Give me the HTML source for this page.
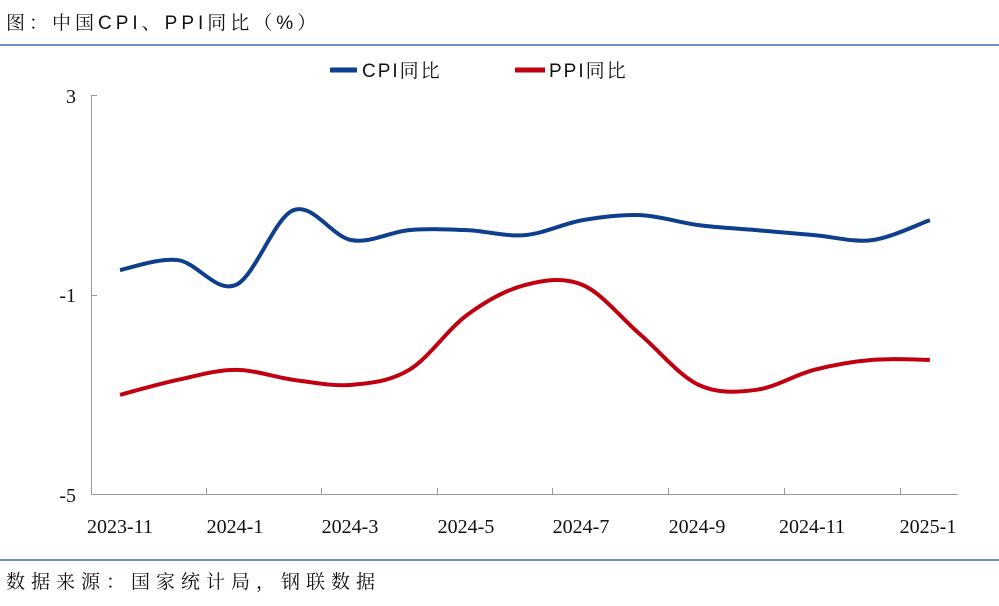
<!DOCTYPE html>
<html><head><meta charset="utf-8"><style>
body{margin:0;background:#fff;width:999px;height:606px;overflow:hidden;position:relative;font-family:"Liberation Serif","Noto Serif CJK SC",serif}
.t{position:absolute;left:6px;top:8px;font-size:19px;color:#111;font-family:"Liberation Sans","Noto Serif CJK SC",serif;letter-spacing:4px}
.s{position:absolute;left:6px;top:567px;font-size:19px;color:#111;font-family:"Liberation Sans","Noto Serif CJK SC",serif;letter-spacing:6px}
.hl{position:absolute;left:0;width:999px;height:2px;background:#7090c0}
</style></head><body>
<div class="t">图：中国CPI、PPI同比（%）</div>
<div class="hl" style="top:44px"></div>
<div class="hl" style="top:559px"></div>
<div class="s">数据来源：国家统计局，钢联数据</div>
<svg width="999" height="606" style="position:absolute;left:0;top:0">
<g stroke="#999" stroke-width="1" fill="none">
<line x1="91.5" y1="95" x2="91.5" y2="494"/>
<line x1="91" y1="494.5" x2="958" y2="494.5"/>
<line x1="91" y1="95.5" x2="97" y2="95.5"/>
<line x1="91" y1="295.5" x2="97" y2="295.5"/>
<g id="tk"></g>
</g>
<g font-size="20" fill="#111" font-family="Liberation Serif,serif">
<text x="76" y="103" text-anchor="end">3</text>
<text x="76" y="302" text-anchor="end">-1</text>
<text x="76" y="502" text-anchor="end">-5</text>
<g text-anchor="middle">
<text x="120" y="533">2023-11</text><text x="235" y="533">2024-1</text><text x="350" y="533">2024-3</text><text x="466" y="533">2024-5</text><text x="581" y="533">2024-7</text><text x="697" y="533">2024-9</text><text x="812" y="533">2024-11</text><text x="928" y="533">2025-1</text>
</g></g>
<line x1="330" y1="70" x2="357" y2="70" stroke="#0e3f8c" stroke-width="5"/>
<text x="362" y="77" font-size="19" letter-spacing="2" fill="#111" font-family="Liberation Sans,Noto Serif CJK SC,serif">CPI同比</text>
<line x1="515" y1="70" x2="545" y2="70" stroke="#c00010" stroke-width="5"/>
<text x="549" y="77" font-size="19" letter-spacing="2" fill="#111" font-family="Liberation Sans,Noto Serif CJK SC,serif">PPI同比</text>
<path id="cpi" fill="none" stroke="#0e3f8c" stroke-width="4"/>
<path id="ppi" fill="none" stroke="#c00010" stroke-width="4"/>
</svg>
<script>
function X(i){return 120+i*57.85}function Y(v){return 295-(v+1)*49.9}
function P(a){var p=a.map(function(v,i){return[X(i),Y(v)]});var d="M"+p[0][0]+","+p[0][1];
for(var i=0;i<p.length-1;i++){var p0=p[i-1]||p[i],p1=p[i],p2=p[i+1],p3=p[i+2]||p2;
d+=" C"+(p1[0]+(p2[0]-p0[0])/6)+","+(p1[1]+(p2[1]-p0[1])/6)+" "+(p2[0]-(p3[0]-p1[0])/6)+","+(p2[1]-(p3[1]-p1[1])/6)+" "+p2[0]+","+p2[1];}return d}
document.getElementById("cpi").setAttribute("d",P([-0.5,-0.3,-0.8,0.7,0.1,0.3,0.3,0.2,0.5,0.6,0.4,0.3,0.2,0.1,0.5]));
document.getElementById("ppi").setAttribute("d",P([-3.0,-2.7,-2.5,-2.7,-2.8,-2.5,-1.4,-0.8,-0.8,-1.8,-2.8,-2.9,-2.5,-2.3,-2.3]));
var g=document.getElementById("tk"),s="";[206,321,437,552,668,784,900].forEach(function(x){s+='<line x1="'+(x+.5)+'" y1="494" x2="'+(x+.5)+'" y2="488"/>'});g.innerHTML=s;
</script>
</body></html>
